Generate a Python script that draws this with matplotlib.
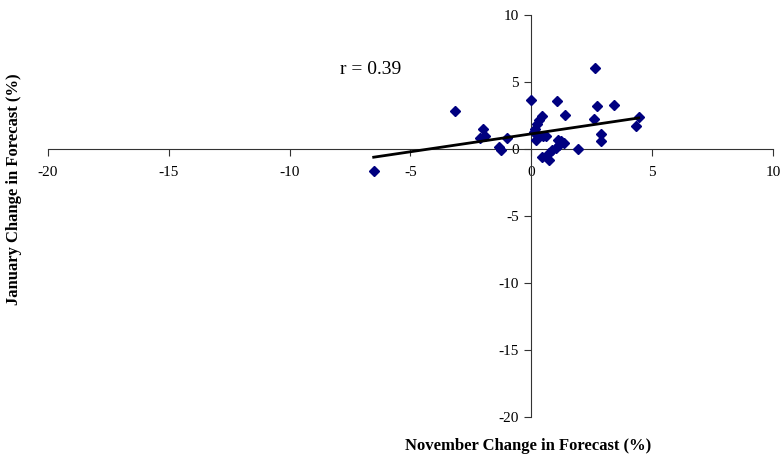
import numpy as np
import matplotlib
matplotlib.use('Agg')
import matplotlib.pyplot as plt

# November vs January forecast change (%)
nov_change = [-6.52, -3.17, -1.98, -2.12, -1.93, -1.33, -1.26, -1.01,
              0.00, 1.05, 1.40, 2.66, 2.71, 3.43, 2.60, 4.45, 4.32, 2.87,
              2.90, 0.44, 0.33, 0.22, 0.16, 0.12, 0.22, 0.47, 0.60, 0.18,
              1.09, 1.23, 1.37, 1.16, 1.02, 0.88, 0.74, 0.44, 0.74, 1.94]
jan_change = [-1.63, 2.81, 1.50, 0.85, 0.95, 0.15, -0.08, 0.79,
              3.66, 3.55, 2.52, 6.06, 3.20, 3.31, 2.22, 2.42, 1.72, 1.15,
              0.56, 2.46, 2.18, 1.85, 1.50, 1.25, 1.05, 0.94, 0.97, 0.70,
              0.69, 0.57, 0.42, 0.30, 0.07, -0.10, -0.30, -0.59, -0.80, 0.00]
r_label = 'r = 0.39'

xticks = [-20, -15, -10, -5, 0, 5, 10]
yticks = [-20, -15, -10, -5, 0, 5, 10]

plt.rcParams['font.family'] = ['Liberation Serif', 'DejaVu Serif']
plt.rcParams['axes.unicode_minus'] = False

fig = plt.figure(figsize=(7.83, 4.61), dpi=100)
ax = fig.add_axes([0.0613, 0.0954, 0.9257, 0.8721])

x = np.array(nov_change)
y = np.array(jan_change)
ax.plot(x, y, linestyle='none', marker='D', markersize=4.6,
        color='#000080', zorder=3)

# linear trend over the data range
slope, intercept = np.polyfit(x, y, 1)
xs = np.array([x.min(), x.max()])
ax.plot(xs, slope * xs + intercept, color='black', linewidth=2.0, zorder=4)

ax.set_xlim(-20, 10)
ax.set_ylim(-20, 10)
ax.set_xticks(xticks)
ax.set_yticks(yticks)

for side in ['top', 'right']:
    ax.spines[side].set_visible(False)
ax.spines['left'].set_position(('data', 0))
ax.spines['bottom'].set_position(('data', 0))
for side in ['left', 'bottom']:
    ax.spines[side].set_linewidth(0.8)
    ax.spines[side].set_color('#333333')

ax.tick_params(axis='x', direction='out', length=5, width=0.8, pad=7,
               labelsize=11, color='#333333')
ax.tick_params(axis='y', direction='out', length=5, width=0.8, pad=4,
               labelsize=11, color='#333333')

ax.text(-7.9, 5.9, r_label, fontsize=14, ha='left', va='center')

fig.text(0.674, 0.032, 'November Change in Forecast (%)', fontsize=12,
         fontweight='bold', ha='center', va='center')
fig.text(0.018, 0.59, 'January Change in Forecast (%)', fontsize=12,
         fontweight='bold', ha='center', va='center', rotation=90)

fig.savefig('out.png', dpi=100)
